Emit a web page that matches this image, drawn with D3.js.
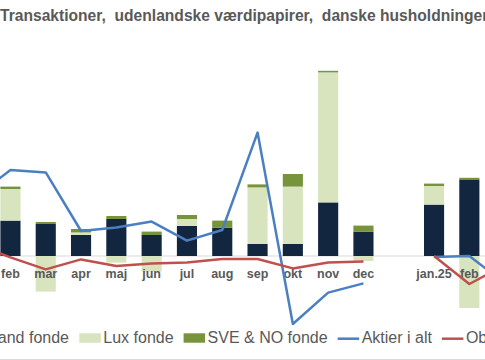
<!DOCTYPE html>
<html>
<head>
<meta charset="utf-8">
<script src="https://cdn.jsdelivr.net/npm/d3@7"></script>
<style>
  body { margin: 0; background: #fff; }
  svg { display: block; }
  text { font-family: "Liberation Sans", Arial, sans-serif; fill: #595959; }
</style>
</head>
<body>
<svg width="485" height="360"></svg>
<script>
// måneder, 2024 -> 2025 (tom plads mellem dec og jan.25)
const months = ["jan", "feb", "mar", "apr", "maj", "jun", "jul", "aug", "sep", "okt", "nov", "dec", "", "jan.25", "feb", "mar"];

// mia. kr. (aflæst)
const irland = [1.9, 1.77, 1.6, 1.05, 1.85, 1.05, 1.5, 1.42, 0.6, 0.6, 2.68, 1.22, null, 2.57, 3.83, 2.2];
const lux    = [0.8, 1.58, -1.78, 0.13, -0.33, -0.78, 0.35, 0.0, 2.83, 2.87, 6.5, -0.25, null, 0.93, -2.6, 0.5];
const sveno  = [0.1, 0.12, 0.1, 0.17, 0.15, 0.17, 0.2, 0.35, 0.15, 0.63, 0.08, 0.3, null, 0.12, 0.08, 0.1];
const aktier = [2.95, 4.3, 4.18, 1.25, 1.42, 1.72, 0.77, 1.3, 6.17, -3.4, -1.83, -1.37, null, -0.05, 0.0, -1.35];
const oblig  = [0.6, -0.07, -0.67, -0.17, -0.5, -0.37, -0.33, -0.15, -0.15, -0.62, -0.32, -0.27, null, 0.0, -1.4, -0.45];

const seriesNames = ["Irland fonde", "Lux fonde", "SVE & NO fonde", "Aktier i alt", "Obligationer"];
const colors = ["#13263f", "#d7e4bd", "#77933c", "#4a7fc1", "#c0504d"];

const svg = d3.select("svg");
const width = +svg.attr("width");
const height = +svg.attr("height");

// tabellen til stakken
const table = months.map((m, i) => ({
    i: i,
    irland: irland[i] || 0,
    lux: lux[i] || 0,
    sveno: sveno[i] || 0
}));

const step = 35.3;
const x0 = -42.5;
const x = d3.scaleBand()
    .domain(d3.range(months.length))
    .range([x0, x0 + months.length * step])
    .paddingInner(0.43)
    .paddingOuter(0.215);

const y = d3.scaleLinear()
    .domain([-5, 10])
    .range([356, 56]);

// titel - skaleres så den fylder samme bredde som i originalen
const title = svg.append("text")
    .attr("x", 0)
    .attr("y", 21)
    .style("white-space", "pre")
    .style("font-weight", "bold")
    .style("font-size", "14px")
    .text("Transaktioner,  udenlandske værdipapirer,  danske husholdninger");
const tw = title.node().getComputedTextLength();
title.style("font-size", (14 * 489 / tw) + "px");

// nul-linjen
svg.append("line")
    .attr("x1", 0).attr("x2", width)
    .attr("y1", y(0)).attr("y2", y(0))
    .attr("stroke", "#d9d9d9")
    .attr("stroke-width", 1);

// stablede søjler
const stack = d3.stack()
    .keys(["irland", "lux", "sveno"])
    .offset(d3.stackOffsetDiverging);

const layers = stack(table);

svg.append("g")
    .selectAll("g")
    .data(layers)
    .join("g")
    .attr("fill", (d, k) => colors[k])
    .selectAll("rect")
    .data(d => d.filter(p => p[1] - p[0] !== 0))
    .join("rect")
    .attr("x", d => x(d.data.i))
    .attr("width", x.bandwidth())
    .attr("y", d => y(Math.max(d[0], d[1])))
    .attr("height", d => Math.abs(y(d[0]) - y(d[1])));

// akse-etiketter (kun dem der ligger inden for billedet)
svg.append("g")
    .selectAll("text")
    .data(months.map((m, i) => ({ m: m, i: i }))
        .filter(d => d.m !== "" && x(d.i) > 0 && x(d.i) + x.bandwidth() < width))
    .join("text")
    .attr("x", d => x(d.i) + x.bandwidth() / 2)
    .attr("y", 277.5)
    .attr("text-anchor", "middle")
    .style("font-weight", "bold")
    .style("font-size", "12.5px")
    .text(d => d.m);

// linjer
const line = d3.line()
    .defined(d => d.v !== null)
    .x(d => x(d.i) + x.bandwidth() / 2)
    .y(d => y(d.v));

[aktier, oblig].forEach((vals, k) => {
    svg.append("path")
        .attr("d", line(vals.map((v, i) => ({ v: v, i: i }))))
        .attr("fill", "none")
        .attr("stroke", colors[3 + k])
        .attr("stroke-width", 2.5)
        .attr("stroke-linejoin", "round");
});

// legende
const legend = svg.append("g").style("font-size", "16px");
const legY = 343.3;
const markW = 21.5;

// første punkt skubbes ud til venstre, de andre lægges efter hinanden
const firstEnd = 69;
const t0 = legend.append("text")
    .attr("x", firstEnd).attr("y", legY)
    .attr("text-anchor", "end")
    .text(seriesNames[0]);
const w0 = t0.node().getComputedTextLength();
legend.append("rect")
    .attr("x", firstEnd - w0 - 2.5 - markW).attr("y", 333.3)
    .attr("width", markW).attr("height", 9.4)
    .attr("fill", colors[0]);

let pos = 79.3;
for (let k = 1; k < seriesNames.length; k++) {
    if (k < 3) {
        legend.append("rect")
            .attr("x", pos).attr("y", 333.3)
            .attr("width", markW).attr("height", 9.4)
            .attr("fill", colors[k]);
    } else {
        legend.append("line")
            .attr("x1", pos).attr("x2", pos + markW)
            .attr("y1", 338.7).attr("y2", 338.7)
            .attr("stroke", colors[k])
            .attr("stroke-width", 2.5);
    }
    const t = legend.append("text")
        .attr("x", pos + markW + 2.5)
        .attr("y", legY)
        .text(seriesNames[k]);
    pos += markW + 2.5 + t.node().getComputedTextLength() + 10;
}

// ramme nederst
svg.append("line")
    .attr("x1", 0).attr("x2", width)
    .attr("y1", 359.5).attr("y2", 359.5)
    .attr("stroke", "#d9d9d9")
    .attr("stroke-width", 1);
</script>
</body>
</html>
